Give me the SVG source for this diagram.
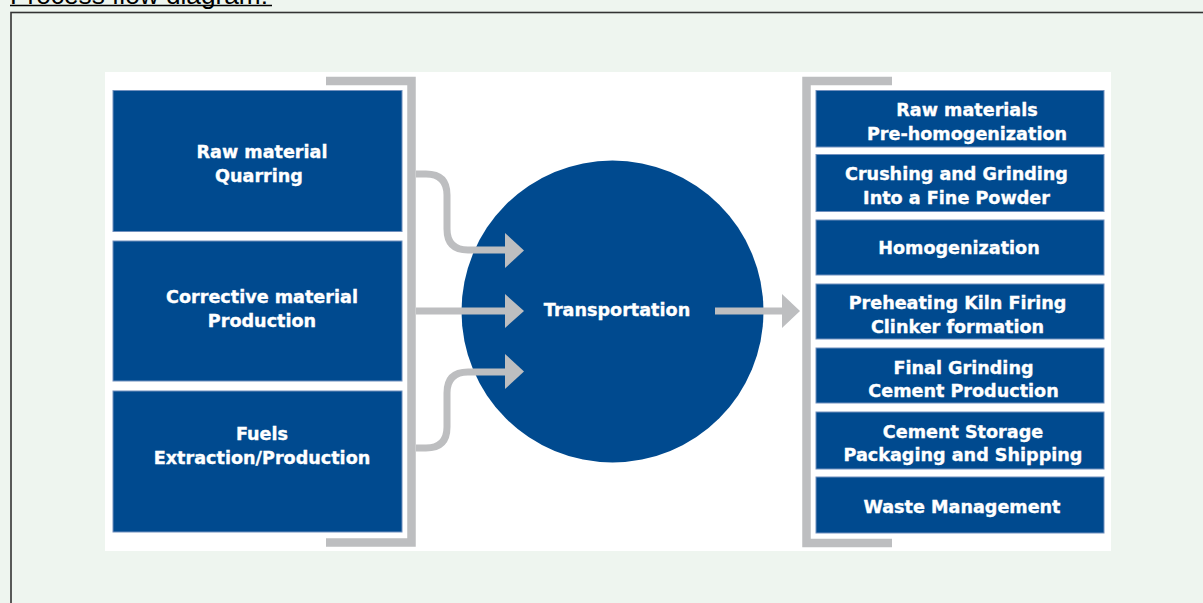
<svg xmlns="http://www.w3.org/2000/svg" width="1203" height="603" viewBox="0 0 1203 603">
<style>
.box{fill:#004A8F;stroke:#7190BE;stroke-width:1}
.t{font-family:"DejaVu Sans",Verdana,sans-serif;font-weight:bold;font-size:17.6px;fill:#FFFFFF;stroke:#FFFFFF;stroke-width:0.35;text-anchor:middle}
.br{fill:none;stroke:#BDBEC0;stroke-width:8.5;stroke-linejoin:miter}
.sh{fill:none;stroke:#BDBEC0;stroke-width:7}
.hd{fill:#BDBEC0}
</style>
<rect x="0" y="0" width="1203" height="603" fill="#EEF5EF"/>
<text x="10" y="4" font-family="'Liberation Sans',Arial,sans-serif" font-size="26" fill="#000" textLength="258" lengthAdjust="spacingAndGlyphs">Process flow diagram:</text>
<line x1="10" y1="5.5" x2="272" y2="5.5" stroke="#000" stroke-width="1.5"/>
<rect x="11" y="12.5" width="1200" height="600" fill="#EEF5EF" stroke="#333333" stroke-width="1.6"/>
<rect x="105" y="72" width="1006" height="479" fill="#FFFFFF"/>

<g id="left-bracket"><path class="br" d="M326,81 H411.5 V542.5 H326"/></g>
<g id="right-bracket"><path class="br" d="M892,81 H806.5 V543 H892"/></g>

<g id="node-raw-material">
<rect class="box" x="113" y="90.5" width="289" height="141"/>
<text class="t" x="262" y="158">Raw material</text>
<text class="t" x="259" y="182">Quarring</text>
</g>
<g id="node-corrective">
<rect class="box" x="113" y="241" width="289" height="140"/>
<text class="t" x="262" y="303">Corrective material</text>
<text class="t" x="262" y="327">Production</text>
</g>
<g id="node-fuels">
<rect class="box" x="113" y="391" width="289" height="141"/>
<text class="t" x="262" y="440">Fuels</text>
<text class="t" x="262" y="464">Extraction/Production</text>
</g>

<g id="node-transportation">
<circle cx="612.5" cy="311.5" r="151" fill="#004A8F"/>
<text class="t" x="617" y="316">Transportation</text>
</g>

<g id="connectors">
<path class="sh" d="M416,174 H426 Q447,174 447,195 V229 Q447,250 468,250 H507"/>
<polygon class="hd" points="505,233 524,250.5 505,268"/>
<path class="sh" d="M416,311 H507"/>
<polygon class="hd" points="505,294 524,311 505,328"/>
<path class="sh" d="M416,448 H426 Q447,448 447,427 V393 Q447,372 468,372 H507"/>
<polygon class="hd" points="505,354 524,371.5 505,389"/>
<path class="sh" d="M715,311 H784"/>
<polygon class="hd" points="782,294 800,311 782,328"/>
</g>

<g id="node-prehomogenization">
<rect class="box" x="816" y="90.5" width="288" height="56.5"/>
<text class="t" x="967" y="116">Raw materials</text>
<text class="t" x="967" y="140">Pre-homogenization</text>
</g>
<g id="node-crushing">
<rect class="box" x="816" y="154.5" width="288" height="57"/>
<text class="t" x="956.5" y="180">Crushing and Grinding</text>
<text class="t" x="956.5" y="204">Into a Fine Powder</text>
</g>
<g id="node-homogenization">
<rect class="box" x="816" y="220" width="288" height="55"/>
<text class="t" x="959" y="254">Homogenization</text>
</g>
<g id="node-kiln">
<rect class="box" x="816" y="284" width="288" height="55"/>
<text class="t" x="957.5" y="309">Preheating Kiln Firing</text>
<text class="t" x="957.5" y="333">Clinker formation</text>
</g>
<g id="node-final-grinding">
<rect class="box" x="816" y="348" width="288" height="55"/>
<text class="t" x="963.5" y="374">Final Grinding</text>
<text class="t" x="963.5" y="397">Cement Production</text>
</g>
<g id="node-storage">
<rect class="box" x="816" y="412" width="288" height="57"/>
<text class="t" x="963" y="438">Cement Storage</text>
<text class="t" x="963" y="461">Packaging and Shipping</text>
</g>
<g id="node-waste">
<rect class="box" x="816" y="477" width="288" height="56"/>
<text class="t" x="962" y="513">Waste Management</text>
</g>
</svg>
